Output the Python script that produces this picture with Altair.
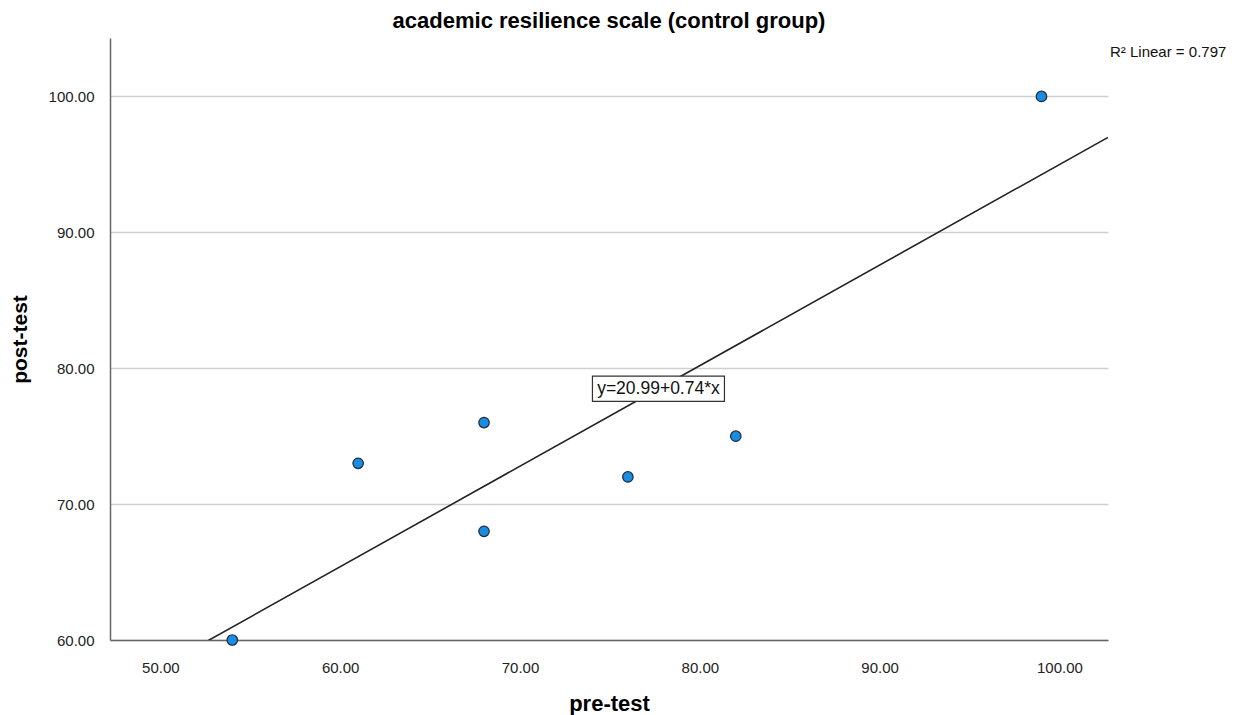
import altair as alt
import pandas as pd

pre_test = [54, 61, 68, 68, 76, 82, 99]
post_test = [60, 73, 76, 68, 72, 75, 100]
intercept = 20.99
slope = 0.74
r2 = 0.797
x_ticks = [50, 60, 70, 80, 90, 100]
y_ticks = [60, 70, 80, 90, 100]
x_domain = [47.2, 102.7]
y_domain = [60, 104.3]
label_x = 77.7

FONT = "Liberation Sans"

df = pd.DataFrame({"pre": pre_test, "post": post_test})
fit_df = pd.DataFrame({"pre": x_domain, "post": [intercept + slope * v for v in x_domain]})
lab_df = pd.DataFrame({"pre": [label_x], "post": [intercept + slope * label_x],
                       "txt": [f"y={intercept:.2f}+{slope:.2f}*x"]})

xs = alt.Scale(domain=x_domain, nice=False, zero=False)
ys = alt.Scale(domain=y_domain, nice=False, zero=False)

xax = alt.Axis(values=x_ticks, format=".2f", grid=False, ticks=False, labelPadding=20,
               titlePadding=18, labelFontSize=15, labelColor="#222", labelFont=FONT,
               titleFont=FONT, titleFontSize=22, titleFontWeight="bold", titleColor="#000",
               domainColor="#666", domainWidth=1.5)
yax = alt.Axis(values=y_ticks, format=".2f", grid=True, gridColor="#cfcfcf", gridWidth=1.5,
               ticks=False, labelPadding=16, titlePadding=18, labelFontSize=15,
               labelColor="#222", labelFont=FONT, titleFont=FONT, titleFontSize=21,
               titleFontWeight="bold", titleColor="#000", domainColor="#666", domainWidth=1.5)

points = alt.Chart(df).mark_circle(size=110, color="#1b8de0", stroke="#1a2a3a",
                                   strokeWidth=1.2, opacity=1).encode(
    x=alt.X("pre:Q", scale=xs, axis=xax, title="pre-test"),
    y=alt.Y("post:Q", scale=ys, axis=yax, title="post-test"),
)

line = alt.Chart(fit_df).mark_line(color="#222", strokeWidth=1.6, clip=True).encode(
    x=alt.X("pre:Q", scale=xs), y=alt.Y("post:Q", scale=ys)
)

box = alt.Chart(lab_df).mark_point(
    shape="M-1,-0.19L1,-0.19L1,0.19L-1,0.19Z", size=132 * 132, filled=True,
    fill="white", stroke="#333", strokeWidth=1.2, opacity=1
).encode(x=alt.X("pre:Q", scale=xs), y=alt.Y("post:Q", scale=ys))

txt = alt.Chart(lab_df).mark_text(font=FONT, fontSize=17.5, color="#111",
                                  align="center", baseline="middle").encode(
    x=alt.X("pre:Q", scale=xs), y=alt.Y("post:Q", scale=ys), text="txt:N"
)

r2_txt = alt.Chart(pd.DataFrame({"t": [f"R² Linear = {r2:.3f}"]})).mark_text(
    font=FONT, fontSize=15, color="#111", align="left", baseline="middle"
).encode(x=alt.value(1000), y=alt.value(14), text="t:N")

chart = alt.layer(points, line, box, txt, r2_txt).properties(
    width=998, height=602,
    autosize=alt.AutoSizeParams(type="none"),
    padding={"left": 102, "top": 30, "right": 133, "bottom": 75},
    title=alt.TitleParams("academic resilience scale (control group)", font=FONT,
                          fontSize=22, fontWeight="bold", color="#000", offset=5),
).configure_view(stroke=None)

chart.save("out.html", embed_options={"renderer": "svg", "actions": False})
